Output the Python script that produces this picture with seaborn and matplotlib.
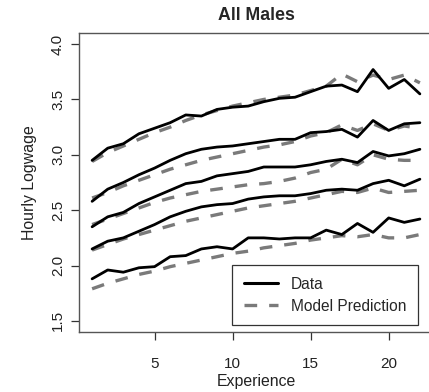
import numpy as np
import pandas as pd
import matplotlib
matplotlib.use("Agg")
import matplotlib.pyplot as plt
import seaborn as sns
from matplotlib.lines import Line2D

experience = list(range(1, 23))

data_q90 = [2.95, 3.06, 3.10, 3.19, 3.24, 3.29, 3.36, 3.35, 3.41, 3.43, 3.44,
            3.48, 3.51, 3.52, 3.57, 3.62, 3.63, 3.57, 3.77, 3.60, 3.68, 3.55]
data_q75 = [2.58, 2.69, 2.75, 2.82, 2.88, 2.95, 3.01, 3.05, 3.07, 3.08, 3.10,
            3.12, 3.14, 3.14, 3.20, 3.21, 3.23, 3.16, 3.31, 3.22, 3.28, 3.29]
data_q50 = [2.35, 2.44, 2.48, 2.56, 2.62, 2.68, 2.74, 2.76, 2.81, 2.83, 2.85,
            2.89, 2.89, 2.89, 2.91, 2.94, 2.96, 2.93, 3.03, 2.99, 3.01, 3.05]
data_q25 = [2.15, 2.22, 2.25, 2.31, 2.37, 2.44, 2.49, 2.53, 2.55, 2.56, 2.60,
            2.62, 2.63, 2.63, 2.65, 2.68, 2.69, 2.68, 2.74, 2.77, 2.72, 2.78]
data_q10 = [1.88, 1.96, 1.94, 1.98, 1.99, 2.08, 2.09, 2.15, 2.17, 2.15, 2.25,
            2.25, 2.24, 2.25, 2.25, 2.32, 2.28, 2.38, 2.30, 2.43, 2.39, 2.42]

model_q90 = [2.94, 3.02, 3.08, 3.14, 3.20, 3.25, 3.31, 3.36, 3.40, 3.44, 3.47,
             3.50, 3.52, 3.54, 3.58, 3.62, 3.73, 3.66, 3.72, 3.68, 3.72, 3.65]
model_q75 = [2.61, 2.66, 2.72, 2.77, 2.82, 2.87, 2.91, 2.95, 2.98, 3.01, 3.04,
             3.07, 3.09, 3.12, 3.17, 3.20, 3.27, 3.22, 3.28, 3.22, 3.26, 3.24]
model_q50 = [2.37, 2.42, 2.47, 2.52, 2.57, 2.61, 2.64, 2.67, 2.69, 2.71, 2.73,
             2.74, 2.76, 2.79, 2.84, 2.87, 2.96, 2.91, 3.00, 2.96, 2.95, 2.95]
model_q25 = [2.14, 2.19, 2.24, 2.28, 2.32, 2.36, 2.40, 2.43, 2.46, 2.49, 2.52,
             2.54, 2.56, 2.58, 2.61, 2.64, 2.67, 2.66, 2.70, 2.66, 2.67, 2.68]
model_q10 = [1.79, 1.84, 1.88, 1.92, 1.95, 1.99, 2.02, 2.05, 2.08, 2.11, 2.13,
             2.16, 2.18, 2.20, 2.23, 2.25, 2.27, 2.26, 2.28, 2.25, 2.25, 2.28]

y_ticks = [1.5, 2.0, 2.5, 3.0, 3.5, 4.0]
x_ticks = [5, 10, 15, 20]

sns.set_style("white")
plt.rcParams['font.family'] = ['Liberation Sans', 'DejaVu Sans']

fig = plt.figure(figsize=(4.29, 3.92), dpi=100)
W, H = 429, 392
left, right, top, bottom = 79, 433, 33, 332
ax = fig.add_axes([left / W, 1 - bottom / H, (right - left) / W, (bottom - top) / H])

data_series = [data_q90, data_q75, data_q50, data_q25, data_q10]
model_series = [model_q90, model_q75, model_q50, model_q25, model_q10]

for d in data_series:
    sns.lineplot(x=experience, y=d, ax=ax, color="black", linewidth=2.0,
                 legend=False, zorder=3)
for m in model_series:
    sns.lineplot(x=experience, y=m, ax=ax, color="#7a7a7a", linewidth=2.4,
                 legend=False, zorder=2)
for ln in ax.lines[len(data_series):]:
    ln.set_linestyle((0, (3.8, 3.6)))

ax.set_xlim(0.16, 22.84)
ax.set_ylim(1.4, 4.1)
ax.set_xticks(x_ticks)
ax.set_xticklabels([str(t) for t in x_ticks])
ax.set_yticks(y_ticks)
ax.set_yticklabels([f"{t:.1f}" for t in y_ticks], rotation=90, va="center")
ax.tick_params(axis="both", direction="out", length=6, width=0.9, color="#333333",
               labelsize=11, labelcolor="#222222",
               left=True, bottom=True)
ax.tick_params(axis="x", pad=12)
ax.tick_params(axis="y", pad=4)
for s in ax.spines.values():
    s.set_color("#555555")
    s.set_linewidth(1.0)
    s.set_visible(True)

ax.set_xlabel("Experience", fontsize=11.4, color="#222222", labelpad=2)
ax.set_ylabel("Hourly Logwage", fontsize=11.4, color="#222222", labelpad=10)
ax.set_title("All Males", fontsize=12.8, fontweight="bold", pad=9)

handles = [Line2D([0], [0], color="black", linewidth=2.2),
           Line2D([0], [0], color="#7a7a7a", linewidth=2.4, linestyle=(0, (3.8, 3.6)))]
leg = ax.legend(handles, ["Data", "Model Prediction"], loc="upper left",
                bbox_to_anchor=(0.432, 0.224), fontsize=11.2, frameon=True,
                fancybox=False, edgecolor="#333333", framealpha=1,
                handlelength=2.2, handletextpad=0.85, borderpad=0.75,
                labelspacing=0.45, borderaxespad=0)
leg.get_frame().set_linewidth(0.9)

fig.savefig("out.png", dpi=100)
